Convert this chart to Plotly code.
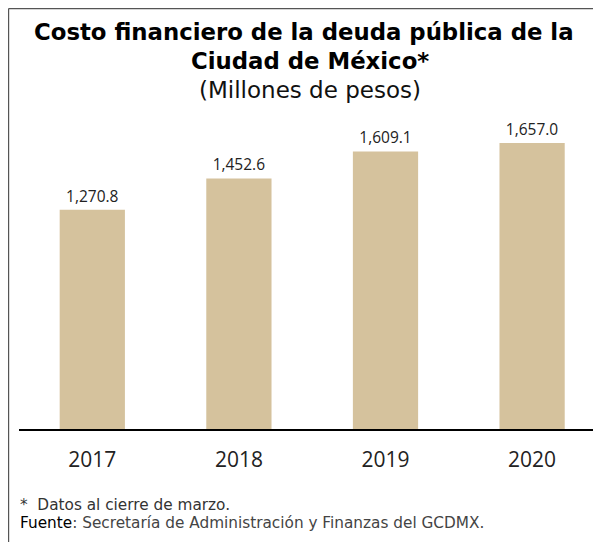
import plotly.graph_objects as go

years = ["2017", "2018", "2019", "2020"]
values = [1270.8, 1452.6, 1609.1, 1657.0]

title_line1 = "Costo financiero de la deuda pública de la"
title_line2 = "Ciudad de México*"
subtitle = "(Millones de pesos)"
note1 = "*\u00a0\u00a0Datos al cierre de marzo."
note2_bold = "Fuente"
note2_rest = ": Secretaría de Administración y Finanzas del GCDMX."

OFF = 8  # page body margin
W, H = 593, 534
ML, MR, MT, MB = 11, 0, 102, 113
PW, PH = W - ML - MR, H - MT - MB

def px(x):
    return (x - OFF - ML) / PW

def py(y):
    return (H - MB - (y - OFF)) / PH

FONT = "Open Sans"
TFONT = "DejaVu Sans"

fig = go.Figure(go.Bar(
    x=years, y=values,
    marker=dict(color="#D5C29D", line=dict(width=0)),
    texttemplate="%{y:,.1f}", textposition="outside",
    textfont=dict(size=15.5, color="#222222", family=FONT),
    cliponaxis=False,
))

def ann(text, x, y, size, color, family, anchor="center", bold=False):
    return dict(text=("<b>" + text + "</b>") if bold else text, x=px(x), y=py(y),
                xref="paper", yref="paper", xanchor=anchor, yanchor="middle",
                showarrow=False, font=dict(size=size, color=color, family=family))

annotations = [
    ann(title_line1, 304, 32, 22.8, "#000000", TFONT, bold=True),
    ann(title_line2, 310, 61, 22.8, "#000000", TFONT, bold=True),
    ann(subtitle, 310, 90, 23, "#111111", TFONT),
    ann(note1, 18, 505, 15.3, "#333333", TFONT, anchor="left"),
    ann("<span style='color:#000000'>" + note2_bold + "</span>" + note2_rest,
        18, 523, 15.3, "#444444", TFONT, anchor="left"),
]

shapes = [
    dict(type="line", xref="paper", yref="paper", x0=px(8.6), x1=px(610), y0=py(8.6), y1=py(8.6),
         line=dict(color="#555555", width=1.2)),
    dict(type="line", xref="paper", yref="paper", x0=px(8.6), x1=px(8.6), y0=py(8.6), y1=py(560),
         line=dict(color="#555555", width=1.2)),
]

fig.update_layout(
    width=W, height=H,
    margin=dict(l=ML, r=MR, t=MT, b=MB, pad=0),
    paper_bgcolor="white", plot_bgcolor="white",
    bargap=0.555,
    showlegend=False,
    annotations=annotations,
    shapes=shapes,
    xaxis=dict(type="category", range=[-0.5, 3.47], showline=True, linecolor="#000000",
               linewidth=2, ticks="", showgrid=False,
               tickfont=dict(size=21, color="#222222", family=FONT), ticklabelstandoff=11),
    yaxis=dict(range=[0, 1849], visible=False, showgrid=False, zeroline=False),
)

fig.write_html("out.html")
